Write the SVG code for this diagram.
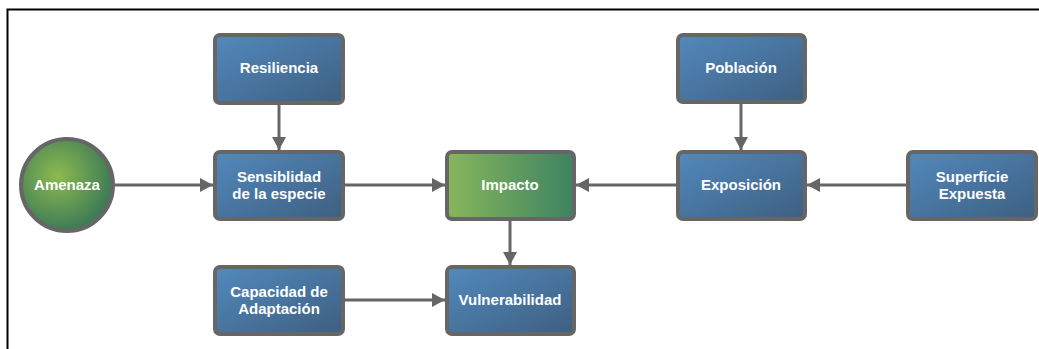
<svg xmlns="http://www.w3.org/2000/svg" width="1039" height="349" viewBox="0 0 1039 349">
<defs>
<linearGradient id="gb" x1="0" y1="0" x2="1" y2="1">
<stop offset="0" stop-color="#5289bd"/>
<stop offset="1" stop-color="#3e5f80"/>
</linearGradient>
<linearGradient id="gg" x1="0" y1="0" x2="1" y2="0">
<stop offset="0" stop-color="#88b65a"/>
<stop offset="1" stop-color="#3d8363"/>
</linearGradient>
<radialGradient id="gc" cx="0.4" cy="0.4" r="0.65">
<stop offset="0" stop-color="#8cba4f"/>
<stop offset="1" stop-color="#387656"/>
</radialGradient>
<marker id="ah" markerUnits="userSpaceOnUse" markerWidth="14" markerHeight="16" refX="13" refY="8" orient="auto">
<path d="M0,1 L13,8 L0,15 Z" fill="#666"/>
</marker>
</defs>
<style>
.box{stroke:#666;stroke-width:4;fill:url(#gb)}
.t{font-family:"Liberation Sans",Arial,sans-serif;font-weight:bold;font-size:15px;fill:#fff;text-anchor:middle}
.c{stroke:#666;stroke-width:3;fill:none;marker-end:url(#ah)}
</style>
<rect width="1039" height="349" fill="#fff"/>
<path d="M7.5,349 V9.5 H1039" fill="none" stroke="#000" stroke-width="2"/>
<g id="connectors">
<line class="c" x1="279" y1="104" x2="279" y2="150"/>
<line class="c" x1="114" y1="185" x2="213" y2="185"/>
<line class="c" x1="344" y1="185" x2="445" y2="185"/>
<line class="c" x1="677" y1="185" x2="576" y2="185"/>
<line class="c" x1="741" y1="103" x2="741" y2="150"/>
<line class="c" x1="907" y1="185" x2="807" y2="185"/>
<line class="c" x1="510" y1="220" x2="510" y2="265"/>
<line class="c" x1="344" y1="300" x2="445" y2="300"/>
</g>
<g id="resiliencia"><rect class="box" x="215" y="35" width="128" height="68" rx="5"/><text class="t" x="279" y="73">Resiliencia</text></g>
<g id="sensibilidad"><rect class="box" x="215" y="152" width="128" height="67" rx="5"/><text class="t" x="279" y="182">Sensiblidad</text><text class="t" x="279" y="199">de la especie</text></g>
<g id="amenaza"><circle cx="67" cy="185" r="46" fill="url(#gc)" stroke="#666" stroke-width="4"/><text class="t" x="67" y="190">Amenaza</text></g>
<g id="impacto"><rect x="447" y="152" width="127" height="67" rx="5" fill="url(#gg)" stroke="#666" stroke-width="4"/><text class="t" x="510" y="190">Impacto</text></g>
<g id="poblacion"><rect class="box" x="678" y="35" width="127" height="67" rx="5"/><text class="t" x="741" y="73">Población</text></g>
<g id="exposicion"><rect class="box" x="678" y="152" width="127" height="67" rx="5"/><text class="t" x="741" y="190">Exposición</text></g>
<g id="superficie"><rect class="box" x="908" y="152" width="128" height="67" rx="5"/><text class="t" x="972" y="182">Superficie</text><text class="t" x="972" y="199">Expuesta</text></g>
<g id="capacidad"><rect class="box" x="215" y="267" width="128" height="67" rx="5"/><text class="t" x="279" y="297">Capacidad de</text><text class="t" x="279" y="314">Adaptación</text></g>
<g id="vulnerabilidad"><rect class="box" x="447" y="267" width="127" height="67" rx="5"/><text class="t" x="510" y="305">Vulnerabilidad</text></g>
</svg>
